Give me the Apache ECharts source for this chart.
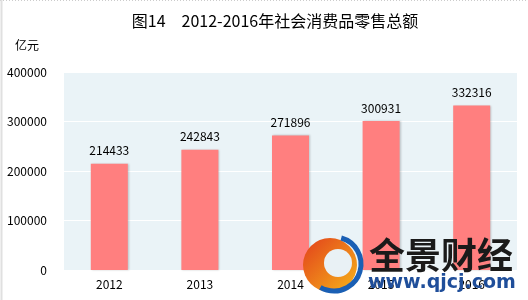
<!DOCTYPE html>
<html><head><meta charset="utf-8">
<script src="https://cdn.jsdelivr.net/npm/echarts@6/dist/echarts.min.js"></script>
<style>html,body{margin:0;padding:0;background:#fff}#c{width:528px;height:300px}</style>
</head><body><div id="c"></div>
<script>
const categories = ['2012','2013','2014','2015','2016'];
const values = [214433, 242843, 271896, 300931, 332316];
const yTicks = [0, 100000, 200000, 300000, 400000];

const chart = echarts.init(document.getElementById('c'), null, {renderer:'canvas'});
const font = '"Noto Sans CJK SC", "DejaVu Sans", sans-serif';
chart.setOption({
  animation:false,
  backgroundColor:'#fff',
  title:{text:'图14　2012-2016年社会消费品零售总额', left:270, top:8, textAlign:'center',
    textStyle:{fontSize:16, fontWeight:'normal', color:'#000', fontFamily:font}},
  graphic:[
    {type:'line', shape:{x1:0,y1:0.5,x2:528,y2:0.5}, style:{stroke:'#ccc', lineDash:[1,2]}},
    {type:'line', shape:{x1:1.5,y1:0,x2:1.5,y2:300}, style:{stroke:'#e0e0e0', lineWidth:2}},
    {type:'text', left:15, top:39, style:{text:'亿元', fontSize:12, fill:'#000', fontFamily:font}},
    {type:'circle', shape:{cx:330, cy:265, r:27}, style:{fill:new echarts.graphic.LinearGradient(0,0,1,1,[{offset:0,color:'#e2401c'},{offset:1,color:'#f6b419'}])}, z:100},
    {type:'circle', shape:{cx:338, cy:263, r:14}, style:{fill:'#e9f1f5'}, z:101},
    {type:'arc', shape:{cx:334, cy:264, r:27, startAngle:-1.3, endAngle:2.1}, style:{stroke:'#1a5fb4', lineWidth:5, fill:null}, z:102},
    {type:'text', x:369, y:237, style:{text:'全景财经', fontSize:36, fontWeight:'bold', fill:'#1a1a1a', fontFamily:font}, z:100},
    {type:'text', x:368, y:274, style:{text:'www.qjcj.com', fontSize:19, fontWeight:'bold', fill:'#1f4e9a', fontFamily:'"DejaVu Sans", sans-serif'}, z:100}
  ],
  grid:{left:64, right:11, top:72, bottom:30, show:true, backgroundColor:'#eaf3f7', borderWidth:0},
  xAxis:{type:'category', data:categories,
    axisLine:{show:false}, axisTick:{show:false},
    axisLabel:{color:'#000', fontSize:12, margin:8, fontFamily:font}},
  yAxis:{type:'value', min:0, max:400000, interval:100000,
    axisLine:{show:false}, axisTick:{show:false},
    splitLine:{lineStyle:{color:'#ffffff', width:1}},
    axisLabel:{color:'#000', fontSize:12, margin:17, fontFamily:font, formatter:v=>String(v)}},
  series:[{type:'bar', data:values, barWidth:37,
    itemStyle:{color:'#ff7f7f', shadowColor:'rgba(0,0,0,0.2)', shadowBlur:2, shadowOffsetX:1, shadowOffsetY:0},
    label:{show:true, position:'top', distance:7, color:'#000', fontSize:12, fontFamily:font}}]
});
</script></body></html>
